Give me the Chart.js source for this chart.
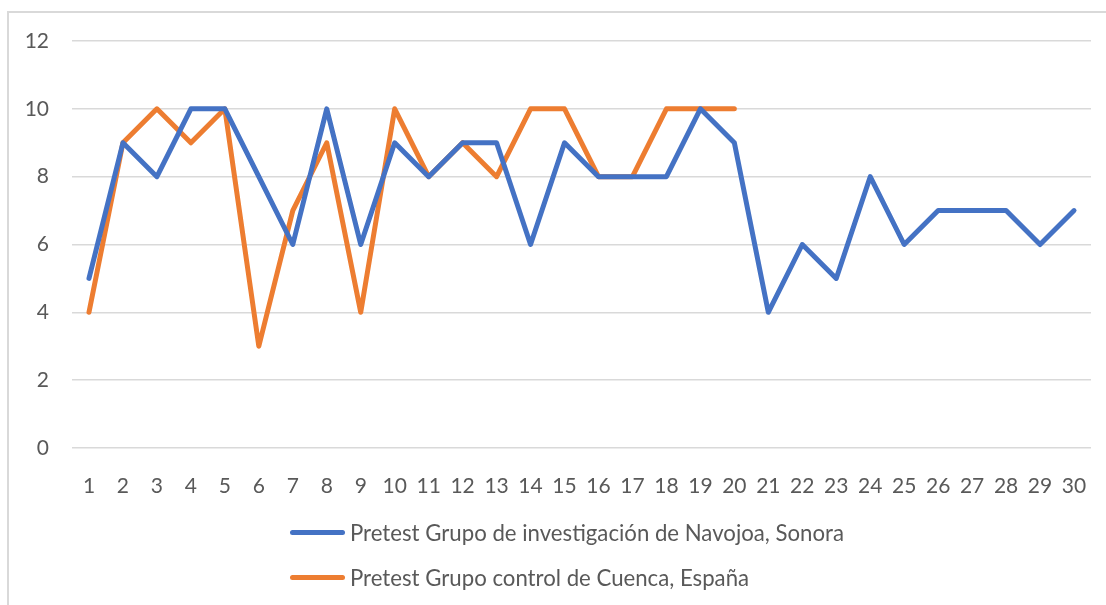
<!DOCTYPE html>
<html>
<head>
<meta charset="utf-8">
<script src="https://cdn.jsdelivr.net/npm/chart.js@4/dist/chart.umd.min.js"></script>
<style>
    body {
        margin: 0;
        background: #fff;
    }
    .wrap {
        position: relative;
        width: 1106px;
        height: 605px;
        overflow: hidden;
    }
    .frame {
        position: absolute;
        left: 7px;
        top: 11px;
        width: 1120px;
        height: 620px;
        border-left: 2px solid #d9d9d9;
        border-top: 2px solid #d9d9d9;
        pointer-events: none;
    }
    .legend {
        position: absolute;
        left: 290px;
        top: 516px;
        font-family: Lato, sans-serif;
        font-size: 22.2px;
        color: #595959;
    }
    .legend-item {
        display: flex;
        align-items: center;
        height: 32px;
        margin-bottom: 13px;
    }
    .legend-line {
        width: 55px;
        height: 5px;
        border-radius: 3px;
        margin-right: 5px;
    }
</style>
</head>
<body>
<div class="wrap">
    <canvas id="myChart" width="1106" height="605"></canvas>
    <div class="frame"></div>
    <div class="legend"></div>
</div>
<script>
// дані графіка
const labels = ['1', '2', '3', '4', '5', '6', '7', '8', '9', '10',
    '11', '12', '13', '14', '15', '16', '17', '18', '19', '20',
    '21', '22', '23', '24', '25', '26', '27', '28', '29', '30'];

const navojoa = [5, 9, 8, 10, 10, 8, 6, 10, 6, 9,
    8, 9, 9, 6, 9, 8, 8, 8, 10, 9,
    4, 6, 5, 8, 6, 7, 7, 7, 6, 7];

const cuenca = [4, 9, 10, 9, 10, 3, 7, 9, 4, 10,
    8, 9, 8, 10, 10, 8, 8, 10, 10, 10];

const yTicks = [0, 2, 4, 6, 8, 10, 12];

const seriesNames = [
    'Pretest Grupo de investigación de Navojoa, Sonora',
    'Pretest Grupo control de Cuenca, España'
];

const textColor = '#595959';
const gridColor = '#d9d9d9';
const font = { family: 'Lato, sans-serif', size: 21 };

const ctx = document.getElementById('myChart');

const data = {
    labels: labels,
    datasets: [{
        label: seriesNames[0],
        data: navojoa,
        borderColor: '#4472C4',
        backgroundColor: '#4472C4',
        borderWidth: 5,
        pointRadius: 0,
        tension: 0,
        borderCapStyle: 'round',
        borderJoinStyle: 'round'
    }, {
        label: seriesNames[1],
        data: cuenca,
        borderColor: '#ED7D31',
        backgroundColor: '#ED7D31',
        borderWidth: 5,
        pointRadius: 0,
        tension: 0,
        borderCapStyle: 'round',
        borderJoinStyle: 'round'
    }]
};

const config = {
    type: 'line',
    data: data,
    options: {
        responsive: false,
        animation: false,
        layout: {
            padding: { left: 0, top: 41, right: 15, bottom: 0 }
        },
        plugins: {
            legend: { display: false },
            tooltip: { enabled: false }
        },
        scales: {
            x: {
                offset: true,
                grid: { display: false },
                border: { display: false },
                ticks: {
                    color: textColor,
                    font: font,
                    padding: 18,
                    maxRotation: 0,
                    autoSkip: false
                },
                afterFit: (scale) => {
                    scale.height = 157;
                }
            },
            y: {
                min: 0,
                max: 12,
                afterBuildTicks: (scale) => {
                    scale.ticks = yTicks.map((v) => ({ value: v }));
                },
                grid: {
                    color: gridColor,
                    lineWidth: 1.5,
                    drawTicks: false
                },
                border: { display: false },
                ticks: {
                    color: textColor,
                    font: font,
                    padding: 23
                },
                afterFit: (scale) => {
                    scale.width = 72;
                }
            }
        }
    }
};

const myChart = new Chart(ctx, config);

// легенда під графіком
const legendEl = document.querySelector('.legend');
myChart.data.datasets.forEach((ds) => {
    const item = document.createElement('div');
    item.className = 'legend-item';
    item.innerHTML = `<span class="legend-line" style="background:${ds.borderColor}"></span><span>${ds.label}</span>`;
    legendEl.appendChild(item);
});
</script>
</body>
</html>
